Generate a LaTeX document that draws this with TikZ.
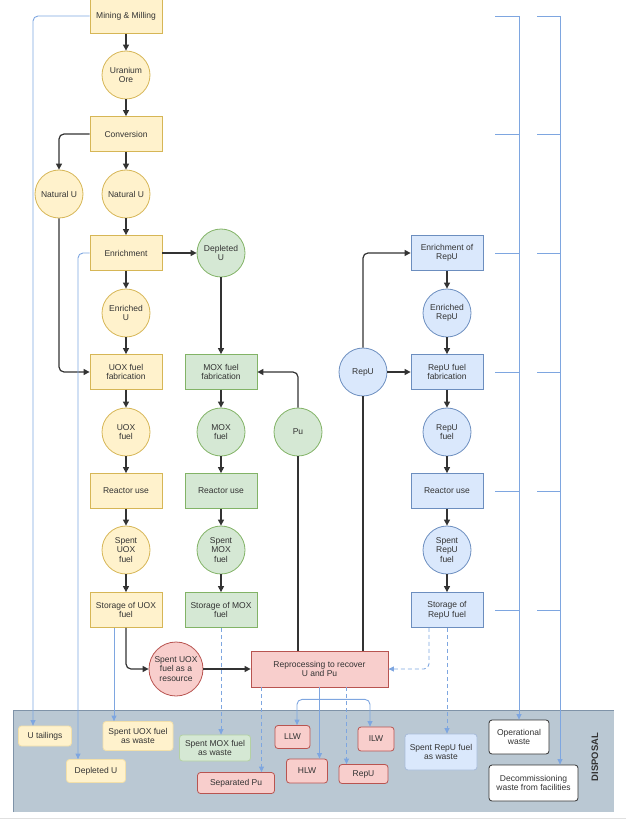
\documentclass[tikz,border=0pt]{standalone}
\usepackage{fontspec}
\setmainfont{Liberation Sans}
\usepackage{xcolor}
\usepackage{tikz}
\usetikzlibrary{arrows.meta, positioning, calc}

\definecolor{uoxfill}{HTML}{FFF2CC}
\definecolor{uoxline}{HTML}{D6B656}
\definecolor{moxfill}{HTML}{D5E8D4}
\definecolor{moxline}{HTML}{82B366}
\definecolor{repufill}{HTML}{DAE8FC}
\definecolor{repuline}{HTML}{6C8EBF}
\definecolor{redfill}{HTML}{F8CECC}
\definecolor{redline}{HTML}{B85450}
\definecolor{wasteblue}{HTML}{7EA6E0}
\definecolor{dispfill}{HTML}{BAC8D3}
\definecolor{displine}{HTML}{7F93A8}
\definecolor{inkgray}{HTML}{333333}

\begin{document}
\begin{tikzpicture}[
    x=1pt, y=-1pt,
    % 基础样式定义
    every node/.style={font=\fontsize{8.5}{9.6}\selectfont, text=inkgray, align=center, inner sep=1pt, line width=0.8pt},
    % 工序（方框）与物料（圆）
    stage/.style={draw, minimum width=72pt, minimum height=35pt},
    stuff/.style={draw, circle, minimum size=48pt},
    % 三条燃料线的配色
    uox/.style={fill=uoxfill, draw=uoxline},
    mox/.style={fill=moxfill, draw=moxline},
    repu/.style={fill=repufill, draw=repuline},
    rose/.style={fill=redfill, draw=redline},
    % 处置区内的方框
    bin/.style={rounded corners=3pt, inner sep=2pt},
    % 连线
    flow/.style={draw=inkgray, line width=1.2pt, rounded corners=5pt, -{Triangle[length=6pt, width=6pt]}},
    bond/.style={draw=inkgray, line width=1.2pt},
    waste/.style={draw=wasteblue, line width=0.9pt, rounded corners=5pt, -{Triangle[length=5.5pt, width=5pt]}},
    maybe/.style={waste, dashed, dash pattern=on 4pt off 3pt}
]
\useasboundingbox (0,0) rectangle (626,821);

% 处置区
\fill[dispfill] (13,710) rectangle (614,812);
\draw[displine, line width=0.7pt] (13,812) -- (13,710) -- (614,710);
\draw[black!12, line width=0.8pt] (0,818) -- (626,818);
\node[rotate=90, font=\fontsize{9.4}{10}\selectfont\bfseries] (disp) at (595,757) {DISPOSAL};

% UOX 燃料线
\node[stage, uox] (mining) at (126,16) {Mining \& Milling};
\node[stuff, uox] (ore) at (126,75) {Uranium\\Ore};
\node[stage, uox] (conv) at (126,134) {Conversion};
\node[stuff, uox] (natL) at (59,194) {Natural U};
\node[stuff, uox] (natR) at (126,194) {Natural U};
\node[stage, uox] (enr) at (126,253) {Enrichment};
\node[stuff, uox] (enrU) at (126,313) {Enriched\\U};
\node[stage, uox] (uoxfab) at (126,372) {UOX fuel\\fabrication};
\node[stuff, uox] (uoxfuel) at (126,432) {UOX\\fuel};
\node[stage, uox] (uoxreac) at (126,491) {Reactor use};
\node[stuff, uox] (spentuox) at (126,550) {Spent\\UOX\\fuel};
\node[stage, uox] (uoxstore) at (126,610) {Storage of UOX\\fuel};

% MOX 燃料线
\node[stuff, mox] (depl) at (221,253) {Depleted\\U};
\node[stage, mox] (moxfab) at (221,372) {MOX fuel\\fabrication};
\node[stuff, mox] (moxfuel) at (221,432) {MOX\\fuel};
\node[stage, mox] (moxreac) at (221,491) {Reactor use};
\node[stuff, mox] (spentmox) at (221,550) {Spent\\MOX\\fuel};
\node[stage, mox] (moxstore) at (221,610) {Storage of MOX\\fuel};
\node[stuff, mox] (pu) at (298,432) {Pu};

% 后处理
\node[stuff, rose, minimum size=54pt] (resource) at (176,669) {Spent UOX\\fuel as a\\resource};
\node[stage, rose, minimum width=137pt, minimum height=36pt] (repro) at (319.5,669) {Reprocessing to recover\\U and Pu};

% RepU 燃料线
\node[stuff, repu] (repuc) at (363,372) {RepU};
\node[stage, repu] (repuenr) at (447,253) {Enrichment of\\RepU};
\node[stuff, repu] (enrrepu) at (447,313) {Enriched\\RepU};
\node[stage, repu] (repufab) at (447,372) {RepU fuel\\fabrication};
\node[stuff, repu] (repufuel) at (447,432) {RepU\\fuel};
\node[stage, repu] (repureac) at (447,491) {Reactor use};
\node[stuff, repu] (spentrepu) at (447,550) {Spent\\RepU\\fuel};
\node[stage, repu] (repustore) at (447,610) {Storage of\\RepU fuel};

% 处置区节点
\node[bin, fill=uoxfill, draw=uoxfill!70!uoxline, minimum width=53pt, minimum height=20pt] (tails) at (45,736) {U tailings};
\node[bin, fill=uoxfill, draw=uoxfill!70!uoxline, minimum width=59pt, minimum height=23pt] (depU) at (96,771) {Depleted U};
\node[bin, fill=uoxfill, draw=uoxfill!70!uoxline, minimum width=70pt, minimum height=29pt] (uoxwaste) at (138,736) {Spent UOX fuel\\as waste};
\node[bin, fill=moxfill, draw=moxline!60, minimum width=71pt, minimum height=26pt] (moxwaste) at (215,748) {Spent MOX fuel\\as waste};
\node[bin, rose, minimum width=77pt, minimum height=21pt] (seppu) at (236,783) {Separated Pu};
\node[bin, rose, minimum width=35pt, minimum height=23pt] (llw) at (292.5,737) {LLW};
\node[bin, rose, minimum width=41pt, minimum height=24pt] (hlw) at (307,771) {HLW};
\node[bin, rose, minimum width=36pt, minimum height=24pt] (ilw) at (376,739) {ILW};
\node[bin, rose, minimum width=49pt, minimum height=19pt] (repuw) at (363.5,774) {RepU};
\node[bin, fill=repufill, draw=repuline!60, minimum width=72pt, minimum height=36pt] (repuwaste) at (441,752) {Spent RepU fuel\\as waste};
\node[bin, fill=white, draw=inkgray, minimum width=60pt, minimum height=34pt] (opw) at (519,737) {Operational\\waste};
\node[bin, fill=white, draw=inkgray, minimum width=89pt, minimum height=36pt] (decom) at (533.5,783) {Decommissioning\\waste from facilities};

% 主流程
\draw[flow] (mining) -- (ore);
\draw[flow] (ore) -- (conv);
\draw[flow] (conv) -- (natR);
\draw[flow] (conv.west) -| (natL.north);
\draw[flow] (natR) -- (enr);
\draw[flow] (enr) -- (depl);
\draw[flow] (enr) -- (enrU);
\draw[flow] (enrU) -- (uoxfab);
\draw[flow] (natL.south) |- (uoxfab.west);
\draw[flow] (uoxfab) -- (uoxfuel);
\draw[flow] (uoxfuel) -- (uoxreac);
\draw[flow] (uoxreac) -- (spentuox);
\draw[flow] (spentuox) -- (uoxstore);
\draw[flow] (depl) -- (moxfab);
\draw[flow] (moxfab) -- (moxfuel);
\draw[flow] (moxfuel) -- (moxreac);
\draw[flow] (moxreac) -- (spentmox);
\draw[flow] (spentmox) -- (moxstore);
\draw[flow] (uoxstore.south) |- (resource.west);
\draw[flow] (resource) -- (repro);
\draw[bond] (pu.south) -- (pu.south |- repro.north);
\draw[flow] (pu.north) |- (moxfab.east);
\draw[bond] (repuc.south) -- (repuc.south |- repro.north);
\draw[flow] (repuc.north) |- (repuenr.west);
\draw[flow] (repuc) -- (repufab);
\draw[flow] (repuenr) -- (enrrepu);
\draw[flow] (enrrepu) -- (repufab);
\draw[flow] (repufab) -- (repufuel);
\draw[flow] (repufuel) -- (repureac);
\draw[flow] (repureac) -- (spentrepu);
\draw[flow] (spentrepu) -- (repustore);

% 去处置区
\draw[waste] (mining.west) -| ([xshift=-12pt]tails.north);
\draw[waste] (enr.west) -| ([xshift=-18pt]depU.north);
\draw[waste] ([xshift=-12pt]uoxstore.south) -- ([xshift=-12pt]uoxstore.south |- uoxwaste.north);
\draw[maybe] (moxstore.south) -- (moxstore.south |- moxwaste.north);
\draw[maybe] ([xshift=-58pt]repro.south) -- ([xshift=-58pt]repro.south |- seppu.north);
\draw[waste] (repro.south) -- (repro.south |- hlw.north);
\draw[waste] ([yshift=-12pt]repro.south) -| ([xshift=4.5pt]llw.north);
\draw[waste] ([yshift=-12pt]repro.south) -| ([xshift=-6pt]ilw.north);
\draw[maybe] ([xshift=27pt]repro.south) -- ([xshift=27pt]repro.south |- repuw.north);
\draw[maybe] ([xshift=-18pt]repustore.south) |- (repro.east);
\draw[maybe] (repustore.south) -- (repustore.south |- repuwaste.north);

% 运行与退役废物
\coordinate (opbar) at (495,0);
\coordinate (decbar) at (537,0);
\coordinate (decin) at ([xshift=26.5pt]decom.north);
\foreach \row in {mining, conv, enr, repufab, repureac, repustore} {
    \draw[wasteblue, line width=0.9pt] (\row -| opbar) -- (\row -| opw);
    \draw[wasteblue, line width=0.9pt] (\row -| decbar) -- (\row -| decin);
}
\draw[waste] (mining -| opw) -- (opw.north);
\draw[waste] (mining -| decin) -- (decin);

\end{tikzpicture}
\end{document}
